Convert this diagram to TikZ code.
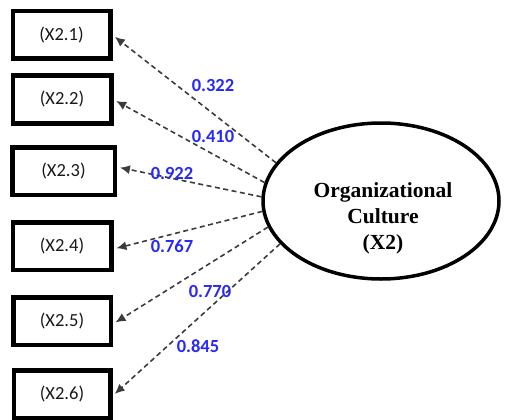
\documentclass[tikz,border=0pt]{standalone}
\usepackage{fontspec}
\setmainfont{Liberation Serif}
\newfontfamily\carl{Carlito}
\usetikzlibrary{arrows.meta,shapes.geometric}
\definecolor{lblue}{RGB}{40,40,250}
\definecolor{dline}{RGB}{60,60,60}
\tikzset{
  indbox/.style={draw=black,line width=4.5pt,minimum height=47.5pt,inner sep=0pt,
    font=\carl\fontsize{18.5}{22}\selectfont,text=black!90},
  latent/.style={ellipse,draw=black,line width=3.5pt,minimum width=236pt,minimum height=156pt,
    inner sep=0pt,align=center,font=\bfseries\fontsize{21.5}{26}\selectfont},
  load/.style={dash pattern=on 5pt off 3.5pt,line width=1.6pt,draw=dline,
    -{Latex[length=10pt,width=9pt]},shorten >=3pt},
  coef/.style={text=lblue,font=\carl\bfseries\fontsize{18.5}{22}\selectfont,inner sep=0pt}
}
\begin{document}
\begin{tikzpicture}[x=1pt,y=-1pt]
\useasboundingbox (0,0) rectangle (506,420);
\node[indbox,minimum width=97.5pt] (b1) at (61.5,35) {(X2.1)};
\node[indbox,minimum width=98.5pt] (b2) at (62,99.5) {(X2.2)};
\node[indbox,minimum width=102.5pt] (b3) at (63.5,171) {(X2.3)};
\node[indbox,minimum width=98.5pt] (b4) at (62,246) {(X2.4)};
\node[indbox,minimum width=97.5pt] (b5) at (62,321) {(X2.5)};
\node[indbox,minimum width=96.5pt] (b6) at (62,394) {(X2.6)};
\node[latent] (oc) at (381,201) {\rule{0pt}{50pt}\hspace*{4pt}Organizational\\\hspace*{4pt}Culture\\\hspace*{4pt}(X2)};
\draw[load] (oc.160) -- (b1.east);
\draw[load] (oc.171) -- (b2.east);
\draw[load] (oc.178) -- ([yshift=4pt]b3.east);
\draw[load] (oc.185.5) -- ([yshift=-3pt]b4.east);
\draw[load] (oc.193) -- ([yshift=-3pt]b5.east);
\draw[load] (oc.203) -- ([yshift=-2pt]b6.east);
\node[coef] (c1) at (213,85) {0.322};
\node[coef] (c2) at (213,136) {0.410};
\node[coef] (c3) at (172,173) {0.922};
\node[coef] (c4) at (172,246.5) {0.767};
\node[coef] (c5) at (210,291.5) {0.770};
\node[coef] (c6) at (198,346.5) {0.845};
\end{tikzpicture}
\end{document}
